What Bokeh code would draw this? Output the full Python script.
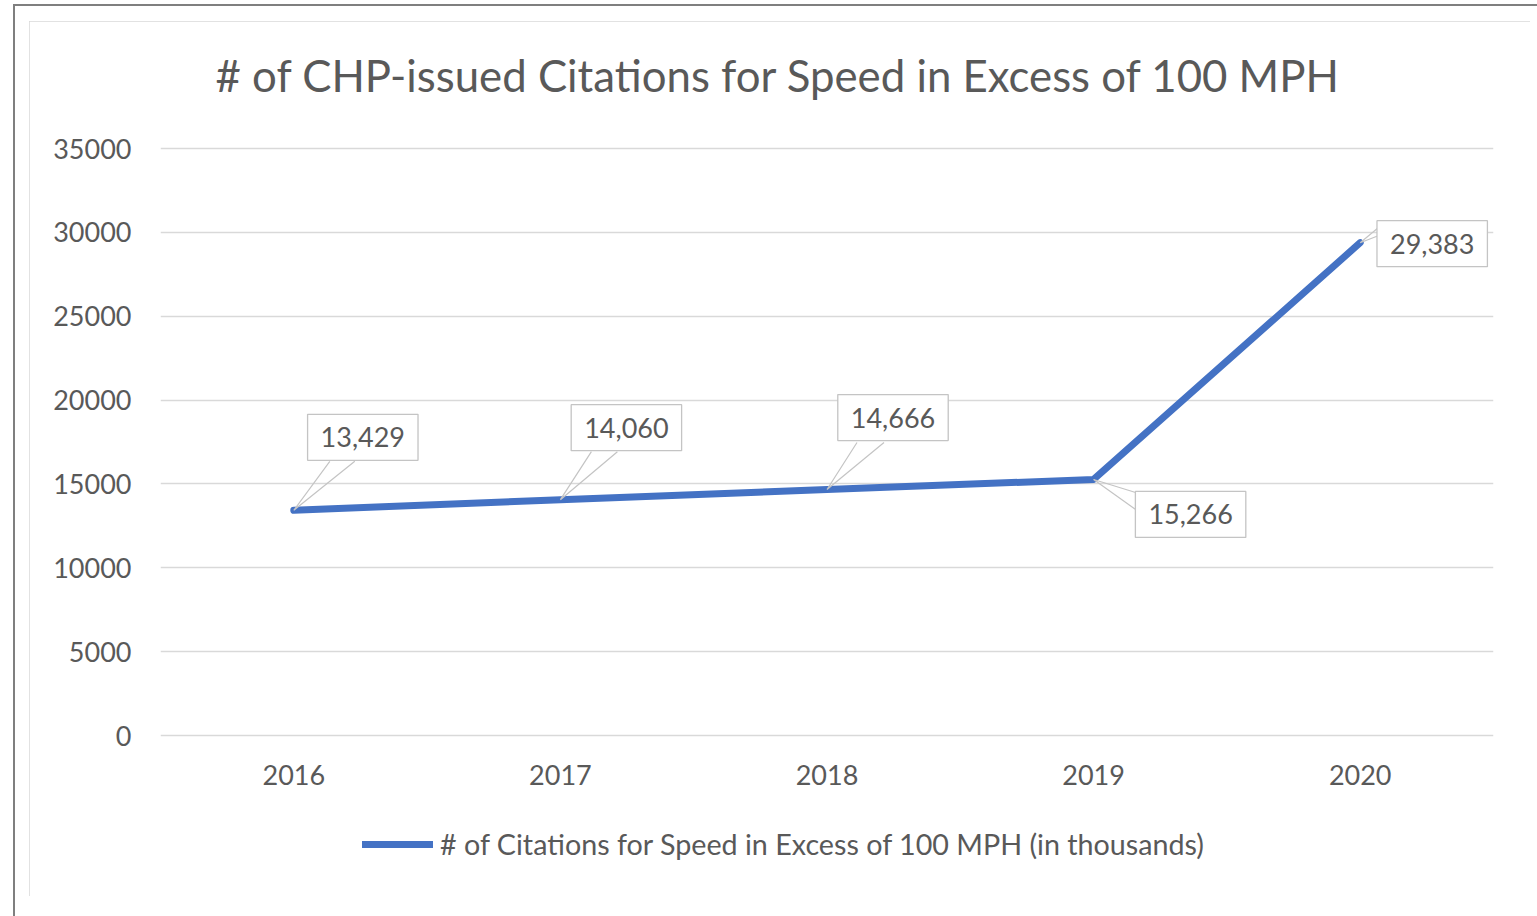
from bokeh.plotting import figure
from bokeh.models import Range1d, FixedTicker, Legend, LegendItem, ColumnDataSource, Label
from bokeh.core.properties import value
from bokeh.embed import file_html
from bokeh.resources import INLINE

# ---------------- data ----------------
years = [2016, 2017, 2018, 2019, 2020]
citations = [13429, 14060, 14666, 15266, 29383]
y_ticks = [0, 5000, 10000, 15000, 20000, 25000, 30000, 35000]
title_text = "# of CHP-issued Citations for Speed in Excess of 100 MPH"
series_name = "# of Citations for Speed in Excess of 100 MPH (in thousands)"

# ---------------- style / layout ----------------
FONT = "Lato"
TXT = "#595959"
LINE = "#4472C4"
GRID = "#d9d9d9"
W, H = 1501, 875
ML, MR, MT, MB = 131, 37, 20, 34
FRAME_W = W - ML - MR
FRAME_H = H - MT - MB
# pixel geometry of the value axis (0 .. 35000 spans 587 px, 0 sits 127 px
# above the bottom of the frame)
VAL_SPAN_PX = 587
ZERO_FROM_BOTTOM_PX = 127
px_y = VAL_SPAN_PX / y_ticks[-1]
Y0 = -ZERO_FROM_BOTTOM_PX / px_y
Y1 = Y0 + FRAME_H / px_y
X0, X1 = years[0] - 0.5, years[-1] + 0.5
px_x = FRAME_W / (X1 - X0)
AXIS_GAP_PX = 29   # category labels sit this far below the 0 line

# label box centre offsets from point (px, y down)
label_dx = [69, 66, 66, 97, 72]
label_dy = [-73, -72, -72, 35, 1]
# callout leader base points (px, y down) for each label
leader_pts = [
    ((36, -49), (61, -49)),
    ((31, -48), (57, -48)),
    ((30, -47), (57, -47)),
    ((42, 13), (42, 30)),
    ((18, -15), (18, -7)),
]

p = figure(width=W, height=H, output_backend="svg", toolbar_location=None,
           title=None,
           x_range=Range1d(X0, X1), y_range=Range1d(Y0, Y1),
           min_border_left=ML, min_border_right=MR,
           min_border_top=MT, min_border_bottom=MB,
           margin=(21, 0, 0, 29))
p.background_fill_color = "white"
p.border_fill_color = "white"
p.outline_line_color = None
p.styles = {
    "outline": "2px solid #d9d9d9",
    "outline-offset": "-2px",
    "box-shadow": "16px 15px 0 30px #ffffff, 14px 13px 0 30px #7f7f7f",
}

p.xaxis.ticker = FixedTicker(ticks=years)
p.yaxis.ticker = FixedTicker(ticks=y_ticks)
for ax in (p.xaxis[0], p.yaxis[0]):
    ax.axis_line_color = None
    ax.major_tick_line_color = None
    ax.minor_tick_line_color = None
    ax.major_tick_in = 0
    ax.major_tick_out = 0
    ax.minor_tick_in = 0
    ax.minor_tick_out = 0
    ax.major_label_text_font = FONT
    ax.major_label_text_font_size = "27px"
    ax.major_label_text_color = TXT
p.yaxis.major_label_standoff = 29
p.xaxis.major_label_standoff = 0
p.xaxis.fixed_location = -AXIS_GAP_PX / px_y
p.xgrid.visible = False
p.ygrid.grid_line_color = GRID
p.ygrid.grid_line_width = 1.5

src = ColumnDataSource(dict(
    x=years, y=citations,
    label=[f"{v:,}" for v in citations],
    dx=label_dx, dy=label_dy,
))

r = p.line("x", "y", source=src, line_color=LINE, line_width=7,
           line_cap="round", line_join="round")

# callout leaders, from each point to its label box
lx, ly = [], []
for x, y, (a, b) in zip(years, citations, leader_pts):
    lx.append([x + a[0] / px_x, x, x + b[0] / px_x])
    ly.append([y - a[1] / px_y, y, y - b[1] / px_y])
p.multi_line(lx, ly, line_color="#c4c4c4", line_width=1.2)

p.text("x", "y", text="label", source=src, x_offset="dx", y_offset="dy",
       text_align="center", text_baseline="middle",
       text_font=value(FONT), text_font_size="27px", text_color=TXT,
       background_fill_color="white", border_line_color="#c4c4c4",
       border_line_width=1.3, padding=13)

# chart title (screen units measured from the frame's bottom-left corner)
title = Label(x=618, y=788, x_units="screen", y_units="screen",
              text=title_text, text_align="center", text_baseline="alphabetic",
              text_font=FONT, text_font_size="43.75px", text_color=TXT)
p.add_layout(title)

legend = Legend(items=[LegendItem(label=series_name, renderers=[r])],
                location=(202, 1), orientation="horizontal",
                padding=0, margin=0, spacing=0,
                border_line_color=None, background_fill_alpha=0,
                glyph_width=71, glyph_height=30, label_height=30,
                label_standoff=7, label_text_font=FONT,
                label_text_font_size="28.7px", label_text_color=TXT)
p.add_layout(legend)

open("out.html", "w").write(file_html(p, INLINE))
